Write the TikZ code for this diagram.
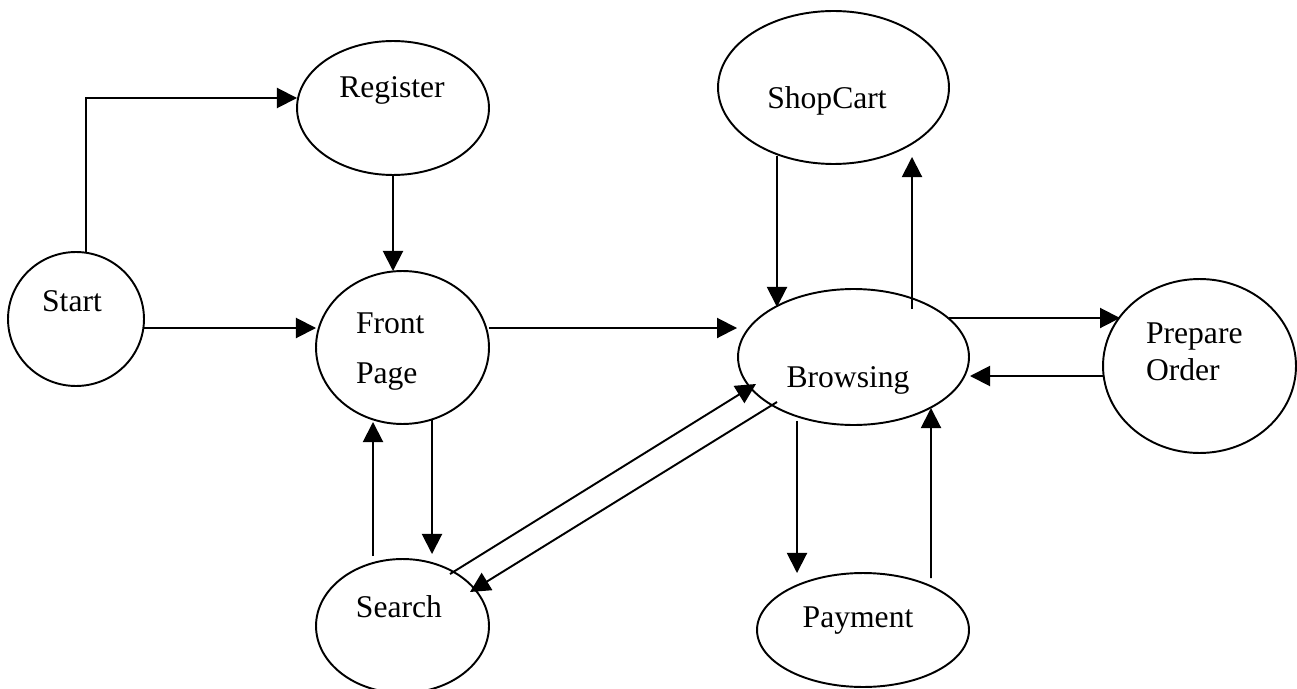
\documentclass[tikz,border=0pt]{standalone}
\usepackage{fontspec}
\setmainfont{Liberation Serif}
\usetikzlibrary{shapes.geometric,arrows.meta,calc}
\begin{document}
\begin{tikzpicture}[x=0.02cm,y=-0.02cm,
  state/.style={draw,ellipse,line width=1.1pt,inner sep=0pt,outer sep=0pt},
  lbl/.style={font=\fontsize{18}{21}\selectfont,inner sep=0pt,outer sep=0pt},
  flow/.style={line width=1.1pt,-{Triangle[length=11.4pt,width=11.4pt]}}]
\useasboundingbox (0,0) rectangle (1297,689);

% states
\node[state,minimum width=2.72cm,minimum height=2.68cm] (start)  at (76,319)     {};
\node[state,minimum width=3.84cm,minimum height=2.68cm] (reg)    at (393,108)    {};
\node[state,minimum width=3.46cm,minimum height=3.06cm] (front)  at (402.5,347.5) {};
\node[state,minimum width=3.46cm,minimum height=2.68cm] (search) at (402.5,626)  {};
\node[state,minimum width=4.62cm,minimum height=3.06cm] (cart)   at (833.5,87.5) {};
\node[state,minimum width=4.62cm,minimum height=2.72cm] (browse) at (853.5,357)  {};
\node[state,minimum width=3.86cm,minimum height=3.48cm] (prep)   at (1199.5,366) {};
\node[state,minimum width=4.24cm,minimum height=2.28cm] (pay)    at (863,630)    {};

% state names
\node[lbl,anchor=base]      (start-t)  at (72,311)   {Start};
\node[lbl,anchor=base]      (reg-t)    at (392,98)   {Register};
\node[lbl,anchor=base west] (front-t1) at (356,333)  {Front};
\node[lbl,anchor=base west] (front-t2) at (356,383)  {Page};
\node[lbl,anchor=base]      (search-t) at (399,617)  {Search};
\node[lbl,anchor=base]      (cart-t)   at (827,109)  {ShopCart};
\node[lbl,anchor=base]      (browse-t) at (848,387)  {Browsing};
\node[lbl,anchor=base west] (prep-t1)  at (1146,343) {Prepare};
\node[lbl,anchor=base west] (prep-t2)  at (1146,380) {Order};
\node[lbl,anchor=base]      (pay-t)    at (858,627)  {Payment};

% transitions
\draw[flow] ($(start.north)+(10,0)$) |- ($(reg.west)+(0,-10)$);
\draw[flow] ($(start.east)+(0,9)$) -- ($(front.west)+(0,-19.5)$);
\draw[flow] (reg.south) -- (reg.south |- front.north);
\draw[flow] ($(front.east)+(0,-19.5)$) -- ($(browse.west)+(-1,-29)$);
\draw[flow] ($(front.south)+(29.5,-4)$) -- ($(search.north)+(29.5,-5)$);
\draw[flow] ($(search.north)+(-29.5,-3)$) -- ($(front.south)+(-29.5,-2)$);
\draw[flow] ($(search.center)+(47.5,-52)$) -- ($(browse.center)+(-97.5,27)$);
\draw[flow] ($(browse.center)+(-76.5,45)$) -- ($(search.center)+(67.5,-34)$);
\draw[flow] ($(cart.south)+(-56.5,-8)$) -- ($(browse.north)+(-76.5,18)$);
\draw[flow] ($(browse.north)+(58.5,20)$) -- ($(cart.south)+(78.5,-7)$);
\draw[flow] ($(browse.east)+(-20,-39)$) -- ($(prep.west)+(17,-48)$);
\draw[flow] ($(prep.west)+(0,10)$) -- ($(browse.east)+(1,19)$);
\draw[flow] ($(browse.south)+(-56.5,-4)$) -- ($(pay.north)+(-66,0)$);
\draw[flow] ($(pay.north)+(68,5)$) -- ($(browse.south)+(77.5,-17)$);
\end{tikzpicture}
\end{document}
